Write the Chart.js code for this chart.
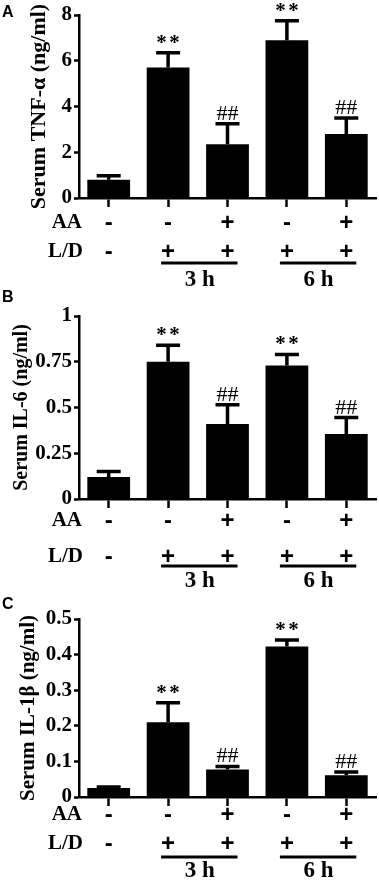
<!DOCTYPE html>
<html>
<head>
<meta charset="utf-8">
<script src="https://cdn.jsdelivr.net/npm/chart.js@4.4.1/dist/chart.umd.min.js"></script>
<style>
  body { margin: 0; background: #fff; }
  canvas { display: block; }
</style>
</head>
<body>
<canvas id="panelA" width="379" height="290"></canvas>
<canvas id="panelB" width="379" height="303"></canvas>
<canvas id="panelC" width="379" height="289"></canvas>
<script>
// 分组及标注
const groups = ['Control', 'L/D 3 h', 'AA + L/D 3 h', 'L/D 6 h', 'AA + L/D 6 h'];
const aaRow = ['-', '-', '+', '-', '+'];
const ldRow = ['-', '+', '+', '+', '+'];
const marks = ['', '**', '##', '**', '##'];
const timeLabels = ['3 h', '6 h'];
const timeSpans = [[1, 2], [3, 4]];

// TNF-α (ng/ml)
const tnfMean = [0.8, 5.7, 2.35, 6.9, 2.8];
const tnfErr = [0.17, 0.65, 0.9, 0.85, 0.7];
const tnfTicks = ['0', '2', '4', '6', '8'];

// IL-6 (ng/ml)
const il6Mean = [0.12, 0.75, 0.41, 0.73, 0.355];
const il6Err = [0.03, 0.09, 0.105, 0.06, 0.09];
const il6Ticks = ['0', '0.25', '0.5', '0.75', '1'];

// IL-1β (ng/ml)
const il1bMean = [0.025, 0.21, 0.077, 0.423, 0.061];
const il1bErr = [0.003, 0.055, 0.009, 0.018, 0.009];
const il1bTicks = ['0', '0.1', '0.2', '0.3', '0.4', '0.5'];

const SERIF = '"Liberation Serif", "Times New Roman", serif';
const SANS = '"Liberation Sans", Arial, sans-serif';

// 误差线、显著性标记、AA / L/D 行
const figureExtras = {
    id: 'figureExtras',
    afterDatasetsDraw(chart, args, opts) {
        const ctx = chart.ctx;
        const y = chart.scales.y;
        const meta = chart.getDatasetMeta(0);
        ctx.save();
        ctx.strokeStyle = '#000';
        ctx.fillStyle = '#000';
        ctx.lineWidth = 3.5;
        ctx.textAlign = 'center';
        ctx.textBaseline = 'alphabetic';
        opts.means.forEach((m, i) => {
            const cx = meta.data[i].x;
            const base = y.getPixelForValue(m);
            const top = y.getPixelForValue(m + opts.errors[i]);
            ctx.beginPath();
            ctx.moveTo(cx, base);
            ctx.lineTo(cx, top);
            ctx.moveTo(cx - 12, top);
            ctx.lineTo(cx + 12, top);
            ctx.stroke();
            if (marks[i] === '**') {
                // 两个星号分开画，间距大一些
                ctx.font = 'bold 21px ' + SERIF;
                ctx.fillText('*', cx - 6.5, top - 4);
                ctx.fillText('*', cx + 6.5, top - 4);
            } else if (marks[i]) {
                ctx.font = '22px ' + SERIF;
                ctx.fillText(marks[i], cx, top - 4);
            }
        });
        ctx.restore();
    },
    afterDraw(chart, args, opts) {
        const ctx = chart.ctx;
        const area = chart.chartArea;
        const meta = chart.getDatasetMeta(0);
        const xs = meta.data.map(b => b.x);
        const off = opts.rows;
        ctx.save();
        ctx.fillStyle = '#000';
        ctx.strokeStyle = '#000';
        ctx.textBaseline = 'middle';

        // 面板字母
        ctx.font = 'bold 16px ' + SANS;
        ctx.textAlign = 'left';
        ctx.fillText(opts.letter, 2, opts.letterY);

        // 行标题
        ctx.font = 'bold 21px ' + SERIF;
        ctx.textAlign = 'right';
        ctx.fillText('AA', 82, area.bottom + off.aa);
        ctx.fillText('L/D', 83, area.bottom + off.ld);

        ctx.textAlign = 'center';
        ctx.font = 'bold 24px ' + SANS;
        aaRow.forEach((s, i) => ctx.fillText(s, xs[i], area.bottom + off.aa));
        ldRow.forEach((s, i) => ctx.fillText(s, xs[i], area.bottom + off.ld));

        // 时间分组横线
        ctx.lineWidth = 3;
        timeSpans.forEach((span, k) => {
            const x0 = xs[span[0]] - 7;
            const x1 = xs[span[1]] + 10;
            ctx.beginPath();
            ctx.moveTo(x0, area.bottom + off.line);
            ctx.lineTo(x1, area.bottom + off.line);
            ctx.stroke();
            ctx.font = 'bold 23px ' + SERIF;
            ctx.fillText(timeLabels[k], (xs[span[0]] + xs[span[1]]) / 2 + 2, area.bottom + off.time);
        });
        ctx.restore();
    }
};

function makePanel(id, cfg) {
    return new Chart(document.getElementById(id), {
        type: 'bar',
        data: {
            labels: groups,
            datasets: [{
                data: cfg.means,
                backgroundColor: '#000',
                borderWidth: 0,
                barPercentage: 0.72,
                categoryPercentage: 1.0
            }]
        },
        plugins: [figureExtras],
        options: {
            responsive: false,
            animation: false,
            layout: {
                padding: { top: cfg.top, right: 3, left: 0, bottom: 0 }
            },
            scales: {
                x: {
                    offset: true,
                    grid: {
                        offset: false,
                        drawOnChartArea: false,
                        drawTicks: true,
                        tickLength: 9,
                        tickWidth: 2.5,
                        tickColor: '#000'
                    },
                    border: { color: '#000', width: 2.5 },
                    ticks: { display: false },
                    afterFit: s => { s.height = cfg.xHeight; }
                },
                y: {
                    min: 0,
                    max: cfg.max,
                    ticks: {
                        stepSize: cfg.step,
                        color: '#000',
                        padding: 2,
                        font: { family: SERIF, size: 21, weight: 'bold' },
                        callback: (v, i) => cfg.tickLabels[i]
                    },
                    grid: {
                        drawOnChartArea: false,
                        drawTicks: true,
                        tickLength: 5,
                        tickWidth: 2.5,
                        tickColor: '#000'
                    },
                    border: { color: '#000', width: 2.5 },
                    title: {
                        display: true,
                        text: cfg.title,
                        color: '#000',
                        font: { family: SERIF, size: cfg.titleSize, weight: 'bold' },
                        padding: { top: cfg.titlePad, bottom: 0 }
                    },
                    afterFit: s => { s.width = 79; }
                }
            },
            plugins: {
                legend: { display: false },
                tooltip: { enabled: false },
                figureExtras: {
                    means: cfg.means,
                    errors: cfg.errors,
                    letter: cfg.letter,
                    letterY: cfg.letterY,
                    rows: cfg.rows
                }
            }
        }
    });
}

makePanel('panelA', {
    means: tnfMean, errors: tnfErr, tickLabels: tnfTicks,
    max: 8, step: 2, title: 'Serum TNF-α (ng/ml)', titleSize: 22,
    top: 15, xHeight: 92, titlePad: 26, letter: 'A', letterY: 13,
    rows: { aa: 25, ld: 54, line: 65, time: 82 }
});

makePanel('panelB', {
    means: il6Mean, errors: il6Err, tickLabels: il6Ticks,
    max: 1, step: 0.25, title: 'Serum IL-6 (ng/ml)', titleSize: 20,
    top: 26, xHeight: 94, titlePad: 10, letter: 'B', letterY: 8,
    rows: { aa: 22, ld: 58, line: 67, time: 82 }
});

makePanel('panelC', {
    means: il1bMean, errors: il1bErr, tickLabels: il1bTicks,
    max: 0.5, step: 0.1, title: 'Serum IL-1β (ng/ml)', titleSize: 21,
    top: 26, xHeight: 85, titlePad: 16, letter: 'C', letterY: 12,
    rows: { aa: 18, ld: 47, line: 60, time: 74 }
});
</script>
</body>
</html>
